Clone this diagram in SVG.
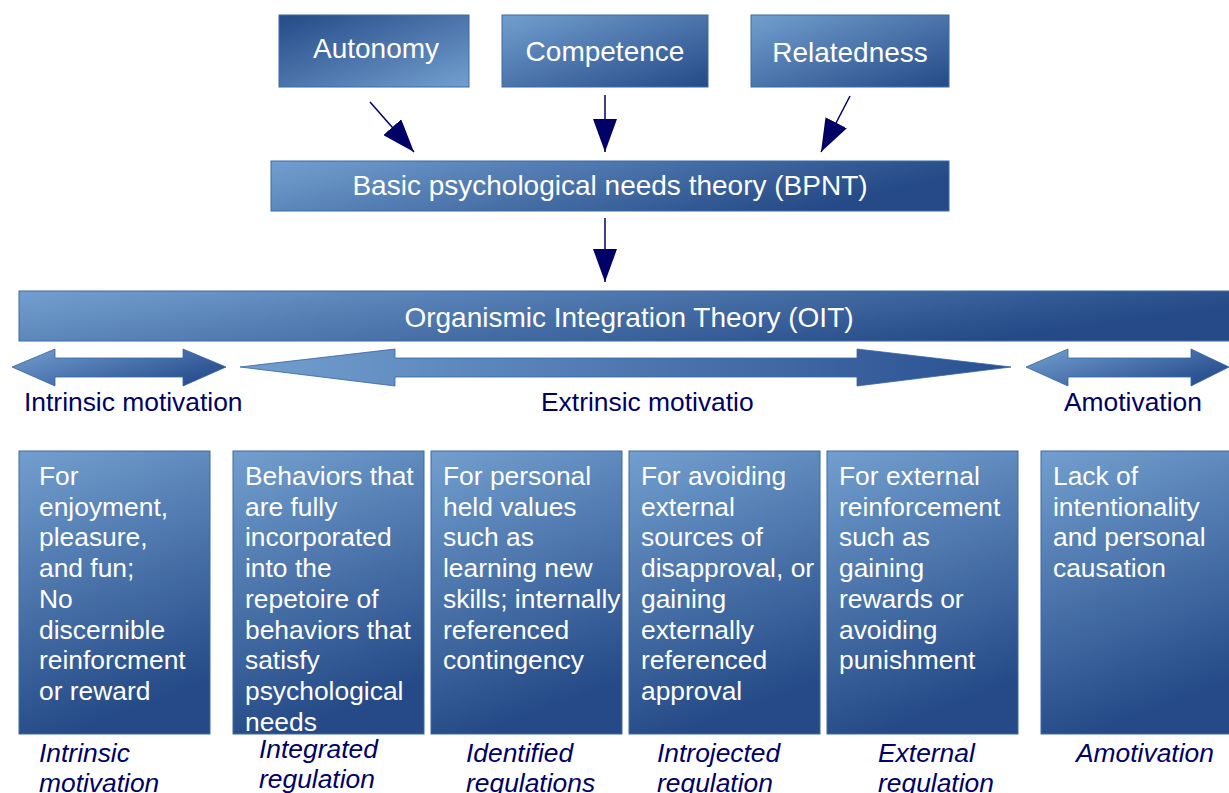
<svg xmlns="http://www.w3.org/2000/svg" width="1229" height="793" viewBox="0 0 1229 793">
<defs>
<linearGradient id="gDiag" x1="0" y1="0" x2="1" y2="1"><stop offset="0" stop-color="#729fcf"/><stop offset="1" stop-color="#254a87"/></linearGradient>
<linearGradient id="gDiagRev" x1="0" y1="0" x2="1" y2="1"><stop offset="0" stop-color="#254a87"/><stop offset="1" stop-color="#729fcf"/></linearGradient>
<linearGradient id="gH" x1="0" y1="0" x2="1" y2="0.3"><stop offset="0" stop-color="#729fcf"/><stop offset="1" stop-color="#254a87"/></linearGradient>
<linearGradient id="gV" x1="0" y1="0" x2="0.25" y2="1"><stop offset="0" stop-color="#729fcf"/><stop offset="1" stop-color="#254a87"/></linearGradient>
<linearGradient id="gArrL" x1="0" y1="0" x2="1" y2="0.6"><stop offset="0" stop-color="#729fcf"/><stop offset="1" stop-color="#2a5090"/></linearGradient>
<linearGradient id="gArrM" x1="0" y1="0" x2="1" y2="0"><stop offset="0" stop-color="#729fcf"/><stop offset="1" stop-color="#2a5090"/></linearGradient>
<marker id="ah" markerUnits="userSpaceOnUse" markerWidth="34" markerHeight="24" refX="33" refY="12" orient="auto"><path d="M0,0 L33,12 L0,24 z" fill="#000066"/></marker>
<style>
.box{stroke:#3a6aa8;stroke-width:1}
.t{font-family:"Liberation Sans",Arial,sans-serif;fill:#ffffff}
.top{font-size:28px;text-anchor:middle}
.bt{font-size:26.4px}
.lab{font-family:"Liberation Sans",Arial,sans-serif;fill:#000066;font-size:26.4px}
.it{font-style:italic}
.con{stroke:#000066;stroke-width:1.5;fill:none;marker-end:url(#ah)}
</style>
</defs>
<rect width="1229" height="793" fill="#ffffff"/>

<g id="autonomy"><rect class="box" x="279" y="15" width="190" height="72" fill="url(#gDiagRev)"/><text class="t top" x="376" y="58">Autonomy</text></g>
<g id="competence"><rect class="box" x="502" y="15" width="206" height="72" fill="url(#gDiag)"/><text class="t top" x="605" y="61">Competence</text></g>
<g id="relatedness"><rect class="box" x="751" y="15" width="198" height="72" fill="url(#gDiag)"/><text class="t top" x="850" y="62">Relatedness</text></g>
<g id="bpnt"><rect class="box" x="271" y="161" width="678" height="50" fill="url(#gH)"/><text class="t top" x="610" y="195">Basic psychological needs theory (BPNT)</text></g>
<g id="oit"><rect class="box" x="19" y="291" width="1212" height="50" fill="url(#gH)"/><text class="t top" x="629" y="327">Organismic Integration Theory (OIT)</text></g>

<g id="connectors">
<line class="con" x1="370" y1="102" x2="414" y2="152"/>
<line class="con" x1="605" y1="95" x2="605" y2="152"/>
<line class="con" x1="850" y1="96" x2="821" y2="152"/>
<line class="con" x1="605" y1="218" x2="605" y2="282"/>
</g>

<g id="arrow-intrinsic"><polygon points="12,367 55,349 55,358 183,358 183,349 226,367 183,386 183,377 55,377 55,386" fill="url(#gArrL)" stroke="#3465a4" stroke-width="0.8"/><text class="lab" x="24" y="411">Intrinsic motivation</text></g>
<g id="arrow-extrinsic"><polygon points="240,367 395,349 395,358 857,358 857,349 1011,367 857,386 857,377 395,377 395,386" fill="url(#gArrM)" stroke="#3465a4" stroke-width="0.8"/><text class="lab" x="541" y="411">Extrinsic motivatio</text></g>
<g id="arrow-amotivation"><polygon points="1026,367 1068,349 1068,358 1191,358 1191,349 1229,367 1191,386 1191,377 1068,377 1068,386" fill="url(#gArrL)" stroke="#3465a4" stroke-width="0.8"/><text class="lab" x="1064" y="411">Amotivation</text></g>

<g id="box-intrinsic">
<rect class="box" x="19" y="451" width="191" height="283" fill="url(#gV)"/>
<text class="t bt" x="39" y="485"><tspan x="39">For</tspan><tspan x="39" dy="30.7">enjoyment,</tspan><tspan x="39" dy="30.7">pleasure,</tspan><tspan x="39" dy="30.7">and fun;</tspan><tspan x="39" dy="30.7">No</tspan><tspan x="39" dy="30.7">discernible</tspan><tspan x="39" dy="30.7">reinforcment</tspan><tspan x="39" dy="30.7">or reward</tspan></text>
<text class="lab it" x="39" y="762"><tspan x="39">Intrinsic</tspan><tspan x="39" dy="30">motivation</tspan></text>
</g>
<g id="box-integrated">
<rect class="box" x="233" y="451" width="191" height="283" fill="url(#gV)"/>
<text class="t bt" x="245" y="485"><tspan x="245">Behaviors that</tspan><tspan x="245" dy="30.7">are fully</tspan><tspan x="245" dy="30.7">incorporated</tspan><tspan x="245" dy="30.7">into the</tspan><tspan x="245" dy="30.7">repetoire of</tspan><tspan x="245" dy="30.7">behaviors that</tspan><tspan x="245" dy="30.7">satisfy</tspan><tspan x="245" dy="30.7">psychological</tspan><tspan x="245" dy="30.7">needs</tspan></text>
<text class="lab it" x="259" y="758"><tspan x="259">Integrated</tspan><tspan x="259" dy="30">regulation</tspan></text>
</g>
<g id="box-identified">
<rect class="box" x="431" y="451" width="191" height="283" fill="url(#gV)"/>
<text class="t bt" x="443" y="485"><tspan x="443">For personal</tspan><tspan x="443" dy="30.7">held values</tspan><tspan x="443" dy="30.7">such as</tspan><tspan x="443" dy="30.7">learning new</tspan><tspan x="443" dy="30.7">skills; internally</tspan><tspan x="443" dy="30.7">referenced</tspan><tspan x="443" dy="30.7">contingency</tspan></text>
<text class="lab it" x="466" y="762"><tspan x="466">Identified</tspan><tspan x="466" dy="30">regulations</tspan></text>
</g>
<g id="box-introjected">
<rect class="box" x="629" y="451" width="191" height="283" fill="url(#gV)"/>
<text class="t bt" x="641" y="485"><tspan x="641">For avoiding</tspan><tspan x="641" dy="30.7">external</tspan><tspan x="641" dy="30.7">sources of</tspan><tspan x="641" dy="30.7">disapproval, or</tspan><tspan x="641" dy="30.7">gaining</tspan><tspan x="641" dy="30.7">externally</tspan><tspan x="641" dy="30.7">referenced</tspan><tspan x="641" dy="30.7">approval</tspan></text>
<text class="lab it" x="657" y="762"><tspan x="657">Introjected</tspan><tspan x="657" dy="30">regulation</tspan></text>
</g>
<g id="box-external">
<rect class="box" x="827" y="451" width="191" height="283" fill="url(#gV)"/>
<text class="t bt" x="839" y="485"><tspan x="839">For external</tspan><tspan x="839" dy="30.7">reinforcement</tspan><tspan x="839" dy="30.7">such as</tspan><tspan x="839" dy="30.7">gaining</tspan><tspan x="839" dy="30.7">rewards or</tspan><tspan x="839" dy="30.7">avoiding</tspan><tspan x="839" dy="30.7">punishment</tspan></text>
<text class="lab it" x="878" y="762"><tspan x="878">External</tspan><tspan x="878" dy="30">regulation</tspan></text>
</g>
<g id="box-amotivation">
<rect class="box" x="1041" y="451" width="191" height="283" fill="url(#gV)"/>
<text class="t bt" x="1053" y="485"><tspan x="1053">Lack of</tspan><tspan x="1053" dy="30.7">intentionality</tspan><tspan x="1053" dy="30.7">and personal</tspan><tspan x="1053" dy="30.7">causation</tspan></text>
<text class="lab it" x="1076" y="762">Amotivation</text>
</g>
</svg>
